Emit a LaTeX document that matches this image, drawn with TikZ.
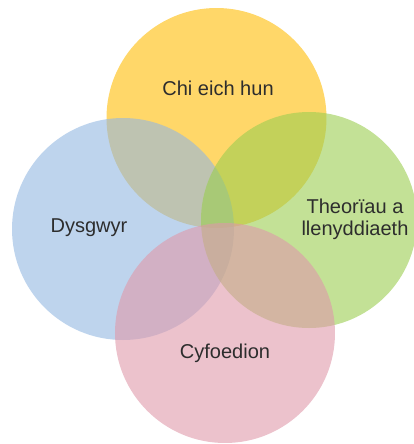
\documentclass[tikz,border=0pt]{standalone}
\usepackage{fontspec}
\setmainfont{Liberation Sans}
\usepackage{tkz-euclide}
\definecolor{chiyel}{RGB}{255,188,5}
\definecolor{dysblue}{RGB}{147,183,225}
\definecolor{theogreen}{RGB}{155,205,80}
\definecolor{cyfpink}{RGB}{223,153,170}
\definecolor{txtgray}{RGB}{45,45,45}
\tikzset{lbl/.style={text=txtgray,font=\fontsize{11.4}{12.6}\selectfont,align=center}}

\begin{document}
\begin{tikzpicture}
    \tkzDefPoint(0,0){bl}
    \tkzDefPoint(8.28,8.88){tr}
    \useasboundingbox (bl) rectangle (tr);
    \clip (bl) rectangle (tr);
    % centres and one point on each circle
    \tkzDefPoint(4.33,6.52){Y}
    \tkzDefPoint(4.33,8.72){y}
    \tkzDefPoint(2.46,4.30){B}
    \tkzDefPoint(0.24,4.30){b}
    \tkzDefPoint(6.18,4.48){G}
    \tkzDefPoint(6.18,6.64){g}
    \tkzDefPoint(4.50,2.22){P}
    \tkzDefPoint(4.50,0.02){p}
    \tkzFillCircle[color=chiyel,opacity=0.6](Y,y)
    \tkzFillCircle[color=dysblue,opacity=0.6](B,b)
    \tkzFillCircle[color=theogreen,opacity=0.6](G,g)
    \tkzFillCircle[color=cyfpink,opacity=0.6](P,p)
    % \tkzDrawCircle(Y,y)
    \node[lbl] (chi) at (4.36,7.12) {Chi eich hun};
    \node[lbl] (dysg) at (1.78,4.32) {Dysgwyr};
    \node[lbl] (theo) at (7.10,4.50) {Theorïau a\\llenyddiaeth};
    \node[lbl] (cyf) at (4.50,1.82) {Cyfoedion};
\end{tikzpicture}
\end{document}
